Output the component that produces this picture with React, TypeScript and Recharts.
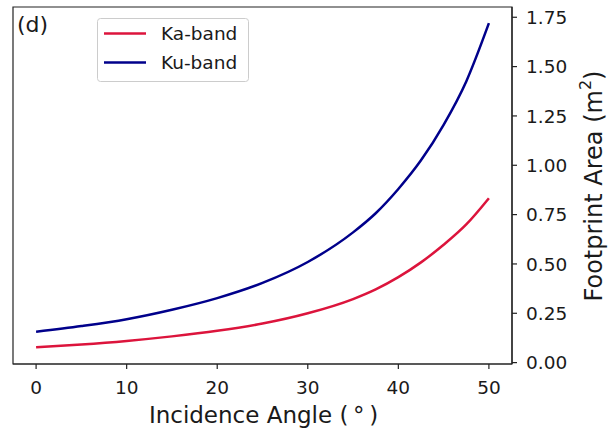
import React from "react";
import {
  LineChart,
  Line,
  XAxis,
  YAxis,
  Legend,
  ReferenceArea,
  Customized,
} from "recharts";

// ---- data ----
const angles = [0, 5, 10, 15, 20, 25, 30, 35, 37.5, 40, 42.5, 45, 47.5, 50];
const kaBand = [0.078, 0.092, 0.11, 0.133, 0.161, 0.198, 0.25, 0.322, 0.371, 0.433, 0.508, 0.597, 0.7, 0.833];
const kuBand = [0.156, 0.185, 0.22, 0.268, 0.327, 0.404, 0.51, 0.66, 0.757, 0.88, 1.025, 1.205, 1.425, 1.72];
const xTicks = [0, 10, 20, 30, 40, 50];
const yTicks = [0, 0.25, 0.5, 0.75, 1.0, 1.25, 1.5, 1.75];
const seriesNames = ["Ka-band", "Ku-band"];
const panelTag = "(d)";
const xLabel = "Incidence Angle (\u2009\u00b0\u2009)";

const data = angles.map((a, i) => ({ angle: a, ka: kaBand[i], ku: kuBand[i] }));

const W = 612;
const H = 435;
const FONT = "DejaVu Sans, Verdana, sans-serif";
const TXT = "#1a1a1a";
const xDomain: [number, number] = [-2.55, 52.55];
const yDomain: [number, number] = [-0.007, 1.802];

const LegendBox = (props: any) => {
  const payload = (props.payload || []) as any[];
  return (
    <svg width={152} height={64} style={{ display: "block" }}>
      <rect x={0.5} y={0.5} width={151} height={63} rx={3} ry={3} fill="rgba(255,255,255,0.8)" stroke="#cccccc" strokeWidth={1} />
      {payload.map((p, i) => (
        <g key={p.value}>
          <line x1={7} x2={49} y1={15.6 + i * 29} y2={15.6 + i * 29} stroke={p.color} strokeWidth={2.5} />
          <text x={64} y={15.6 + i * 29} dominantBaseline="central" fontFamily={FONT} fontSize={18.5} fill={TXT}>
            {p.value}
          </text>
        </g>
      ))}
    </svg>
  );
};

const Annotations = () => (
  <g>
    <text x={17} y={32} fontFamily={FONT} fontSize={22} fill={TXT}>
      {panelTag}
    </text>
  </g>
);

const YLabel = () => (
  <text
    x={0}
    y={0}
    transform="translate(594,186) rotate(-90)"
    textAnchor="middle"
    dominantBaseline="central"
    fontFamily={FONT}
    fontSize={24}
    fill={TXT}
  >
    Footprint Area (m<tspan dy={-9} fontSize={16}>2</tspan>
    <tspan dy={9}>)</tspan>
  </text>
);

const XLabel = () => (
  <text x={263.5} y={423} textAnchor="middle" fontFamily={FONT} fontSize={23} fill={TXT}>
    {xLabel}
  </text>
);

export default function App() {
  return (
    <div style={{ position: "absolute", left: 0, top: 0, width: W, height: H, background: "#fff" }}>
      <LineChart width={W} height={H} data={data} margin={{ top: 7, left: 13, right: 10, bottom: 11 }}>
        <ReferenceArea
          x1={xDomain[0]}
          x2={xDomain[1]}
          y1={yDomain[0]}
          y2={yDomain[1]}
          fill="none"
          stroke="#222"
          strokeWidth={1.2}
          ifOverflow="visible"
        />
        <XAxis
          dataKey="angle"
          type="number"
          domain={xDomain}
          ticks={xTicks}
          allowDataOverflow
          height={60}
          tickSize={5}
          tickMargin={12}
          axisLine={{ stroke: "#222", strokeWidth: 1.2 }}
          tickLine={{ stroke: "#222", strokeWidth: 1.2 }}
          tick={{ fontFamily: FONT, fontSize: 18.5, fill: TXT }}
          label={{ content: () => <XLabel /> }}
        />
        <YAxis
          orientation="right"
          type="number"
          domain={yDomain}
          ticks={yTicks}
          allowDataOverflow
          width={90}
          tickSize={5}
          tickMargin={9}
          tickFormatter={(v: number) => v.toFixed(2)}
          axisLine={{ stroke: "#222", strokeWidth: 1.2 }}
          tickLine={{ stroke: "#222", strokeWidth: 1.2 }}
          tick={{ fontFamily: FONT, fontSize: 18.5, fill: TXT }}
          label={{ content: () => <YLabel /> }}
        />
        <Line
          type="monotone"
          dataKey="ka"
          name={seriesNames[0]}
          stroke="#DC143C"
          strokeWidth={2.5}
          dot={false}
          activeDot={false}
          isAnimationActive={false}
        />
        <Line
          type="monotone"
          dataKey="ku"
          name={seriesNames[1]}
          stroke="#00008B"
          strokeWidth={2.5}
          dot={false}
          activeDot={false}
          isAnimationActive={false}
        />
        <Legend
          layout="vertical"
          align="center"
          verticalAlign="middle"
          content={<LegendBox />}
          wrapperStyle={{ position: "absolute", left: 97, top: 18, width: 152, height: 64 }}
        />
        <Customized component={Annotations} />
      </LineChart>
    </div>
  );
}
